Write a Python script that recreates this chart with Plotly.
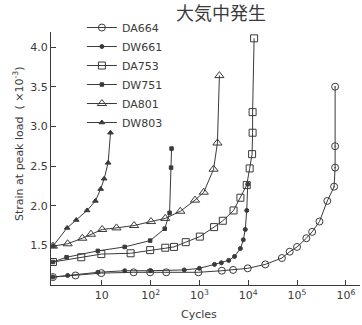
import plotly.graph_objects as go

# ---- data (cycles, strain x1e-3) ----
da664_n = [1, 2.9, 9.8, 45, 98, 209, 955, 2880, 4900, 9770, 22400, 49000, 70800, 100000,
           155000, 204000, 288000, 417000, 575000, 603000, 603000, 603000]
da664_s = [1.10, 1.12, 1.15, 1.16, 1.16, 1.16, 1.16, 1.18, 1.19, 1.21, 1.26, 1.34, 1.42, 1.48,
           1.59, 1.67, 1.80, 2.06, 2.24, 2.48, 2.75, 3.50]

dw661_n = [1, 2.0, 8.3, 29.5, 100, 490, 1000, 2040, 2820, 3980, 5250, 6920, 7940, 8710, 9330, 9770]
dw661_s = [1.10, 1.12, 1.16, 1.18, 1.18, 1.19, 1.21, 1.26, 1.28, 1.31, 1.36, 1.46, 1.57, 1.70, 1.94, 2.27]

da753_n = [1, 3.8, 9.8, 39, 98, 200, 302, 525, 1020, 2000, 3020, 5010, 6920, 9330, 10700,
           12000, 12300, 12300, 13200]
da753_s = [1.29, 1.35, 1.39, 1.40, 1.44, 1.47, 1.48, 1.54, 1.61, 1.73, 1.81, 1.94, 2.10, 2.26, 2.47,
           2.65, 2.92, 3.18, 4.11]

dw751_n = [1, 1.9, 8.3, 29.5, 98, 195, 245, 263, 269]
dw751_s = [1.29, 1.35, 1.43, 1.48, 1.56, 1.71, 1.91, 2.48, 2.72]

da801_n = [1, 2, 4, 6, 10.2, 20, 46, 102, 200, 407, 813, 1230, 1950, 2340, 2570]
da801_s = [1.49, 1.52, 1.59, 1.64, 1.70, 1.72, 1.75, 1.80, 1.84, 1.93, 2.07, 2.17, 2.46, 2.79, 3.64]

dw803_n = [1, 1.95, 3.0, 5.0, 7.4, 9.5, 11.2, 13.5, 15.1]
dw803_s = [1.49, 1.72, 1.82, 1.94, 2.06, 2.21, 2.34, 2.54, 2.92]

x_tickvals = [10, 100, 1000, 10000, 100000, 1000000]
x_ticktext = ["10", "10<sup>2</sup>", "10<sup>3</sup>", "10<sup>4</sup>", "10<sup>5</sup>", "10<sup>6</sup>"]
y_tickvals = [1.5, 2.0, 2.5, 3.0, 3.5, 4.0]
y_ticktext = ["1.5", "2.0", "2.5", "3.0", "3.5", "4.0"]

INK = "#3a3a3a"
FONT = "DejaVu Sans"

fig = go.Figure()

def add(name, n, s, symbol, size, lw=1.0):
    fig.add_trace(go.Scatter(
        x=n, y=s, name=name, mode="lines+markers",
        line=dict(color=INK, width=lw),
        marker=dict(symbol=symbol, size=size, color=INK,
                    line=dict(color=INK, width=1)),
    ))

sym664 = ["circle-open"] * (len(da664_n) - 4) + ["circle-open-dot"] * 4
add("DA664", da664_n, da664_s, sym664, 7)
add("DW661", dw661_n, dw661_s, "circle", 4)
add("DA753", da753_n, da753_s, "square-open", 7)
add("DW751", dw751_n, dw751_s, "square", 3.5)
add("DA801", da801_n, da801_s, "triangle-up-open", 8)
add("DW803", dw803_n, dw803_s, "triangle-up", 5)

fig.update_layout(
    width=362, height=325,
    margin=dict(l=51, r=2, t=32, b=40),
    paper_bgcolor="white", plot_bgcolor="white",
    font=dict(family=FONT, size=11, color=INK),
    showlegend=True,
    legend=dict(x=0.10, y=1.075, xanchor="left", yanchor="top",
                bgcolor="rgba(0,0,0,0)", font=dict(size=11, color=INK),
                itemwidth=30, tracegroupgap=0),
    xaxis=dict(type="log", range=[-0.04, 6.29], tickvals=x_tickvals, ticktext=x_ticktext,
               ticks="inside", ticklen=5, tickcolor=INK, showline=True, linecolor=INK,
               linewidth=1, showgrid=False, zeroline=False, tickfont=dict(size=11)),
    yaxis=dict(range=[1.0, 4.19], tickvals=y_tickvals, ticktext=y_ticktext,
               ticks="inside", ticklen=5, tickcolor=INK, showline=True, linecolor=INK,
               linewidth=1, showgrid=False, zeroline=False, tickfont=dict(size=11)),
    annotations=[
        dict(text="大気中発生", xref="paper", yref="paper", x=0.55, y=1.0, xanchor="center",
             yanchor="bottom", yshift=5, showarrow=False,
             font=dict(family="Noto Sans CJK JP", size=18, color=INK)),
        dict(text="Strain at peak load  ( ×10<sup>-3</sup>)", xref="paper", yref="paper",
             x=0, y=0.5, xshift=-42, yshift=14, textangle=-90, showarrow=False,
             font=dict(size=11, color=INK)),
        dict(text="Cycles", xref="paper", yref="paper", x=0.48, y=0, yshift=-29,
             yanchor="middle", showarrow=False, font=dict(size=11, color=INK)),
    ],
)

fig.write_html("out.html")
